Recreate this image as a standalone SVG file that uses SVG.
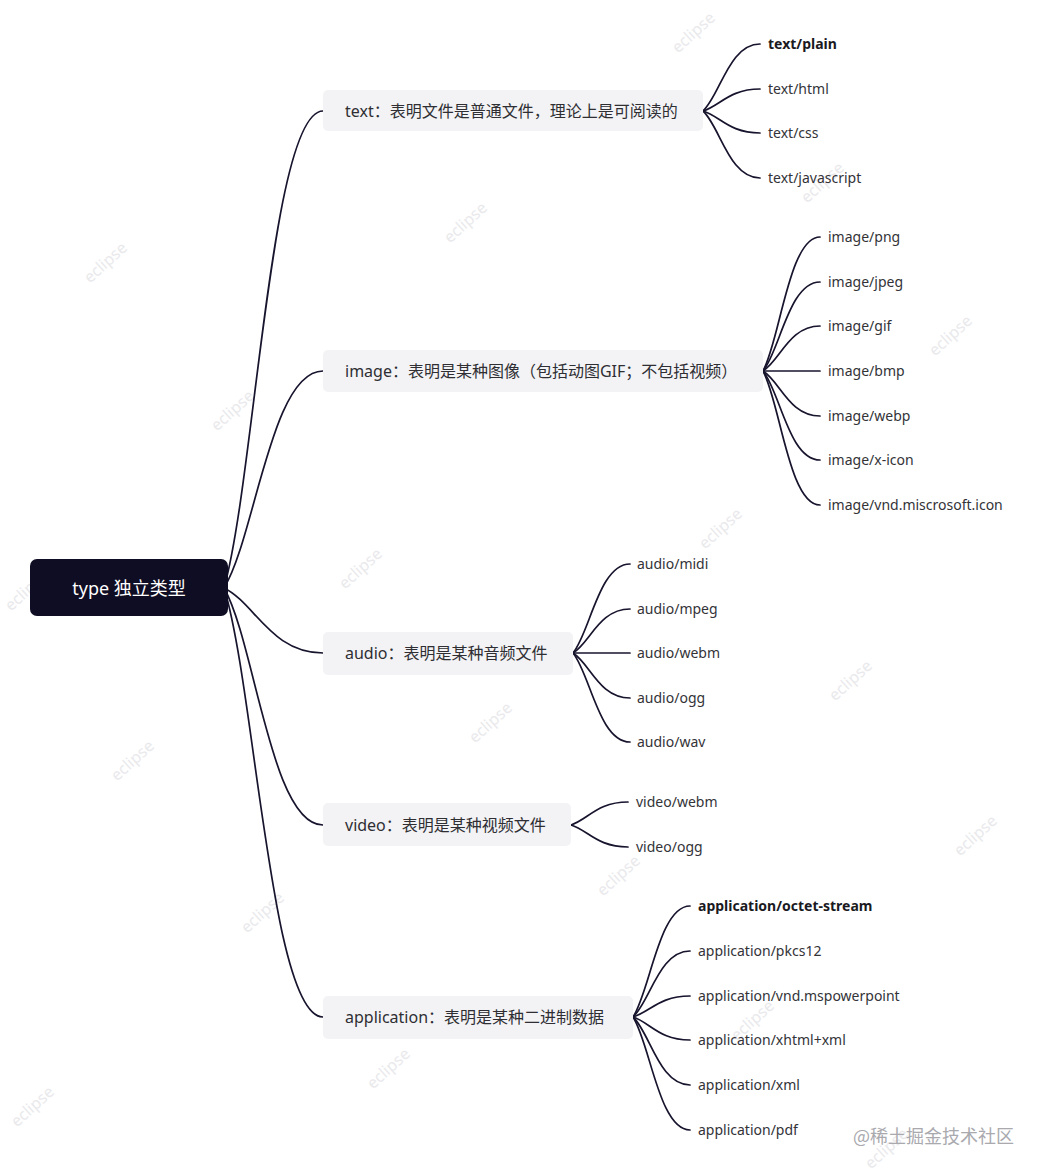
<svg xmlns="http://www.w3.org/2000/svg" width="1045" height="1175" viewBox="0 0 1045 1175">
<style>
.wm{font-family:"Noto Sans","Liberation Sans",sans-serif;font-size:16px;fill:#e9e9ec;text-anchor:middle;dominant-baseline:central}
.edge{fill:none;stroke:#17142d;stroke-width:1.7;stroke-linecap:round}
.l1 rect{fill:#f3f3f5}
.l1 text{font-family:"Noto Sans","Noto Sans CJK SC",sans-serif;font-size:16px;fill:#2e2e33;dominant-baseline:central}
.leaf{font-family:"Noto Sans","Noto Sans CJK SC",sans-serif;font-size:14px;fill:#333338;dominant-baseline:central}
.bold{font-weight:bold;fill:#1a1a1f}
</style>
<rect width="1045" height="1175" fill="#ffffff"/>
<g id="watermarks">
<text class="wm" transform="translate(693,32) rotate(-42)">eclipse</text>
<text class="wm" transform="translate(465,222) rotate(-42)">eclipse</text>
<text class="wm" transform="translate(105,262) rotate(-42)">eclipse</text>
<text class="wm" transform="translate(822,182) rotate(-42)">eclipse</text>
<text class="wm" transform="translate(950,335) rotate(-42)">eclipse</text>
<text class="wm" transform="translate(232,410) rotate(-42)">eclipse</text>
<text class="wm" transform="translate(592,372) rotate(-42)">eclipse</text>
<text class="wm" transform="translate(720,528) rotate(-42)">eclipse</text>
<text class="wm" transform="translate(360,568) rotate(-42)">eclipse</text>
<text class="wm" transform="translate(26,590) rotate(-42)">eclipse</text>
<text class="wm" transform="translate(850,680) rotate(-42)">eclipse</text>
<text class="wm" transform="translate(490,722) rotate(-42)">eclipse</text>
<text class="wm" transform="translate(132,760) rotate(-42)">eclipse</text>
<text class="wm" transform="translate(975,835) rotate(-42)">eclipse</text>
<text class="wm" transform="translate(618,875) rotate(-42)">eclipse</text>
<text class="wm" transform="translate(262,912) rotate(-42)">eclipse</text>
<text class="wm" transform="translate(752,1020) rotate(-42)">eclipse</text>
<text class="wm" transform="translate(388,1068) rotate(-42)">eclipse</text>
<text class="wm" transform="translate(32,1106) rotate(-42)">eclipse</text>
<text class="wm" transform="translate(886,1148) rotate(-42)">eclipse</text>
</g>
<g id="connectors">
<path class="edge" d="M224 588 C255 478 271 111 323 111"/>
<path class="edge" d="M224 588 C255 538 271 371 323 371"/>
<path class="edge" d="M224 588 C255 603 271 653 323 653"/>
<path class="edge" d="M224 588 C255 642 271 825 323 825"/>
<path class="edge" d="M224 588 C255 687 271 1017 323 1017"/>

<path class="edge" d="M703 111 C720 95.6 729 44 760 44"/>
<path class="edge" d="M703 111 C720 105.9 729 89 760 89"/>
<path class="edge" d="M703 111 C720 116.1 729 133 760 133"/>
<path class="edge" d="M703 111 C720 126.4 729 178 760 178"/>

<path class="edge" d="M763 371 C780 340.2 789 237 820 237"/>
<path class="edge" d="M763 371 C780 350.5 789 282 820 282"/>
<path class="edge" d="M763 371 C780 360.7 789 326 820 326"/>
<path class="edge" d="M763 371 L820 371"/>
<path class="edge" d="M763 371 C780 381.3 789 416 820 416"/>
<path class="edge" d="M763 371 C780 391.5 789 460 820 460"/>
<path class="edge" d="M763 371 C780 401.8 789 505 820 505"/>

<path class="edge" d="M573 653 C590 632.5 599 564 630 564"/>
<path class="edge" d="M573 653 C590 642.9 599 609 630 609"/>
<path class="edge" d="M573 653 L630 653"/>
<path class="edge" d="M573 653 C590 663.4 599 698 630 698"/>
<path class="edge" d="M573 653 C590 673.5 599 742 630 742"/>

<path class="edge" d="M571 825 C588 819.7 597 802 628 802"/>
<path class="edge" d="M571 825 C588 830.1 597 847 628 847"/>

<path class="edge" d="M633 1017 C650 991.5 659 906 690 906"/>
<path class="edge" d="M633 1017 C650 1001.8 659 951 690 951"/>
<path class="edge" d="M633 1017 C650 1012.2 659 996 690 996"/>
<path class="edge" d="M633 1017 C650 1022.3 659 1040 690 1040"/>
<path class="edge" d="M633 1017 C650 1032.6 659 1085 690 1085"/>
<path class="edge" d="M633 1017 C650 1043 659 1130 690 1130"/>
</g>
<g id="root">
<rect x="30" y="559" width="198" height="57" rx="7" fill="#0f0d23"/>
<text x="129" y="587.5" font-family="Noto Sans, Noto Sans CJK SC, sans-serif" font-size="18" fill="#ffffff" text-anchor="middle" dominant-baseline="central">type 独立类型</text>
</g>
<g id="node-text" class="l1">
<rect x="323" y="90" width="380" height="41" rx="5"/>
<text x="345" y="111">text：表明文件是普通文件，理论上是可阅读的</text>
</g>
<g id="node-image" class="l1">
<rect x="323" y="350" width="440" height="42" rx="5"/>
<text x="345" y="371">image：表明是某种图像（包括动图GIF；不包括视频）</text>
</g>
<g id="node-audio" class="l1">
<rect x="323" y="632" width="250" height="43" rx="5"/>
<text x="345" y="653">audio：表明是某种音频文件</text>
</g>
<g id="node-video" class="l1">
<rect x="323" y="803" width="248" height="43" rx="5"/>
<text x="345" y="825">video：表明是某种视频文件</text>
</g>
<g id="node-application" class="l1">
<rect x="323" y="996" width="310" height="43" rx="5"/>
<text x="345" y="1017">application：表明是某种二进制数据</text>
</g>
<g id="leaves-text">
<text class="leaf bold" x="768" y="43.5">text/plain</text>
<text class="leaf" x="768" y="88.5">text/html</text>
<text class="leaf" x="768" y="132.5">text/css</text>
<text class="leaf" x="768" y="177.5">text/javascript</text>
</g>
<g id="leaves-image">
<text class="leaf" x="828" y="236.5">image/png</text>
<text class="leaf" x="828" y="281.5">image/jpeg</text>
<text class="leaf" x="828" y="325.5">image/gif</text>
<text class="leaf" x="828" y="370.5">image/bmp</text>
<text class="leaf" x="828" y="415.5">image/webp</text>
<text class="leaf" x="828" y="459.5">image/x-icon</text>
<text class="leaf" x="828" y="504.5">image/vnd.miscrosoft.icon</text>
</g>
<g id="leaves-audio">
<text class="leaf" x="637" y="563.5">audio/midi</text>
<text class="leaf" x="637" y="608.5">audio/mpeg</text>
<text class="leaf" x="637" y="652.5">audio/webm</text>
<text class="leaf" x="637" y="697.5">audio/ogg</text>
<text class="leaf" x="637" y="741.5">audio/wav</text>
</g>
<g id="leaves-video">
<text class="leaf" x="636" y="801.5">video/webm</text>
<text class="leaf" x="636" y="846.5">video/ogg</text>
</g>
<g id="leaves-application">
<text class="leaf bold" x="698" y="905.5">application/octet-stream</text>
<text class="leaf" x="698" y="950.5">application/pkcs12</text>
<text class="leaf" x="698" y="995.5">application/vnd.mspowerpoint</text>
<text class="leaf" x="698" y="1039.5">application/xhtml+xml</text>
<text class="leaf" x="698" y="1084.5">application/xml</text>
<text class="leaf" x="698" y="1129.5">application/pdf</text>
</g>
<text x="853" y="1135" font-family="Noto Sans CJK SC, sans-serif" font-size="18" fill="#a9a9ae" dominant-baseline="central">@稀土掘金技术社区</text>
</svg>
